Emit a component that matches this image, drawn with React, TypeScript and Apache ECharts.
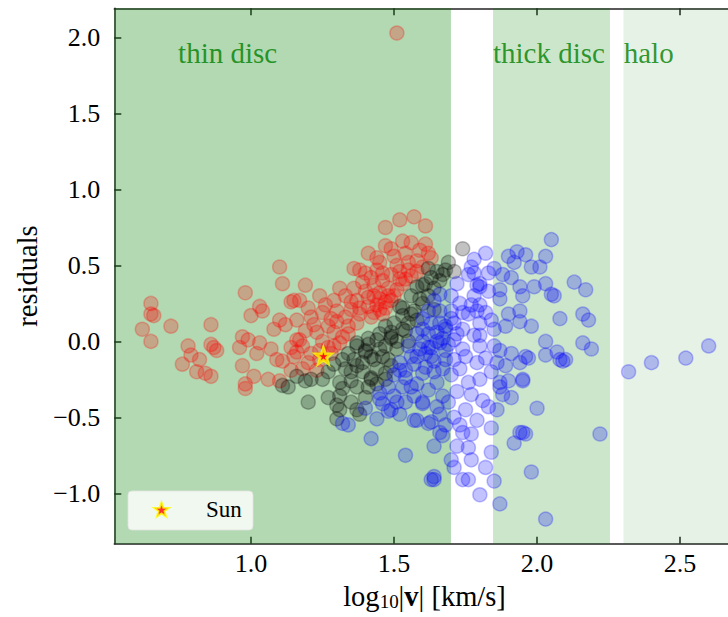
import React, { useEffect, useRef } from "react";
import * as echarts from "echarts";

// ---- axis ranges & ticks ----
const xMin = 0.522;
const xMax = 2.691;
const yMin = -1.332;
const yMax = 2.193;
const xTicks = [1.0, 1.5, 2.0, 2.5];
const yTicks = [-1.0, -0.5, 0.0, 0.5, 1.0, 1.5, 2.0];

// ---- kinematic regions (log10 |v| bounds) ----
const regionNames = ["thin disc", "thick disc", "halo"];
const regionFrom = [xMin, 1.846, 2.302];
const regionTo = [1.699, 2.255, xMax];
const regionAlpha = [0.3, 0.2, 0.1];
const regionLabelX = [0.745, 1.846, 2.303];
const regionLabelY = 1.9;

// ---- Sun ----
const sunPoint: [number, number] = [1.253, -0.095];

// ---- residuals, red group ----
const redStars: [number, number][] = [
  [0.65, 0.25], [0.65, 0.18], [0.66, 0.17], [0.62, 0.08], [0.65, 0.0], [0.72, 0.1],
  [0.86, 0.11], [0.78, -0.03], [0.79, -0.09], [0.76, -0.15], [0.82, -0.12], [0.81, -0.2],
  [0.86, -0.23], [0.84, -0.21], [0.86, -0.02], [0.88, -0.06], [0.87, -0.04],
  [0.98, 0.32], [1.1, 0.49], [1.11, 0.38], [1.19, 0.37], [1.0, 0.17], [1.03, 0.23],
  [1.04, 0.2], [0.97, 0.03], [0.96, -0.04], [0.99, 0.01], [1.02, -0.08], [0.97, -0.16],
  [0.98, -0.31], [0.98, -0.28], [1.01, -0.23], [1.06, -0.25], [1.03, -0.01], [1.07, -0.05],
  [1.08, 0.08], [1.1, 0.14], [1.12, 0.11], [1.09, -0.12], [1.11, -0.13], [1.15, -0.1],
  [1.14, -0.04], [1.16, 0.01], [1.18, -0.03], [1.14, 0.26], [1.17, 0.27], [1.1, -0.26],
  [1.47, 0.75], [1.52, 0.8], [1.57, 0.82], [1.61, 0.76], [1.61, 0.64], [1.63, 0.55],
  [1.41, 0.58], [1.44, 0.55], [1.36, 0.48], [1.47, 0.63], [1.49, 0.61], [1.56, 0.65],
  [1.54, 0.58], [1.5, 0.56], [1.58, 0.53], [1.6, 0.49], [1.15, 0.27], [1.24, 0.3],
  [1.31, 0.35], [1.29, 0.27], [1.39, 0.39], [1.43, 0.37], [1.46, 0.4], [1.49, 0.44],
  [1.52, 0.46], [1.54, 0.41], [1.37, 0.27], [1.41, 0.29], [1.45, 0.21], [1.43, 0.19],
  [1.25, 0.19], [1.21, 0.16], [1.16, 0.14], [1.23, 0.06], [1.17, 0.01], [1.29, 0.06],
  [1.34, 0.1], [1.37, 0.12], [1.31, -0.01], [1.27, -0.04], [1.21, -0.08], [1.16, -0.07],
  [1.41, 0.23], [1.35, 0.21], [1.45, 0.32], [1.51, 0.34], [1.56, 0.43], [1.49, 0.27],
  [1.47, 0.26], [1.44, 0.24], [1.48, 0.3], [1.42, 0.16], [1.46, 0.18], [1.38, 0.18],
  [1.33, 0.16], [1.3, 0.13], [1.27, 0.1], [1.32, 0.03], [1.28, -0.08], [1.24, -0.12],
  [1.2, -0.14], [1.26, 0.24], [1.2, 0.22], [1.33, 0.3], [1.53, 0.38], [1.58, 0.46],
  [1.62, 0.58], [1.55, 0.52], [1.51, 0.5], [1.38, 0.47], [1.44, 0.47], [1.51, 2.03],
  [1.45, 0.28], [1.47, 0.22], [1.5, 0.3], [1.48, 0.35], [1.43, 0.3], [1.4, 0.33],
  [1.42, 0.42], [1.46, 0.45], [1.52, 0.41], [1.38, 0.22], [1.35, 0.26], [1.36, 0.35],
  [1.3, 0.2], [1.28, 0.15], [1.34, 0.05], [1.25, 0.0], [1.22, 0.11], [1.19, 0.07],
  [1.29, -0.03], [1.24, -0.06], [1.18, -0.18], [1.23, -0.19], [1.14, -0.19], [1.55, 0.47],
  [1.59, 0.6], [1.53, 0.66], [1.45, 0.52], [1.4, 0.45],
];

// ---- residuals, black group ----
const blackStars: [number, number][] = [
  [1.47, 0.1], [1.65, 0.46], [1.67, 0.44], [1.6, 0.37], [1.56, 0.3], [1.52, 0.23],
  [1.53, 0.17], [1.57, 0.2], [1.62, 0.3], [1.49, 0.06], [1.44, 0.01], [1.41, -0.02],
  [1.37, -0.03], [1.47, -0.03], [1.51, 0.0], [1.54, 0.07], [1.36, -0.12], [1.32, -0.12],
  [1.42, -0.1], [1.48, -0.12], [1.37, -0.16], [1.35, -0.2], [1.39, -0.14], [1.19, -0.26],
  [1.21, -0.25], [1.25, -0.25], [1.27, -0.2], [1.31, -0.27], [1.2, -0.4], [1.27, -0.37],
  [1.31, -0.36], [1.31, -0.45], [1.3, -0.51], [1.37, -0.45], [1.38, -0.48], [1.41, -0.3],
  [1.42, -0.25], [1.47, -0.25], [1.44, -0.18], [1.49, -0.16], [1.46, -0.1], [1.51, -0.05],
  [1.55, 0.0], [1.49, 0.03], [1.16, -0.23], [1.11, -0.29], [1.74, 0.61], [1.71, 0.46],
  [1.68, 0.47], [1.66, 0.4], [1.63, 0.42], [1.6, 0.25], [1.58, 0.14], [1.55, 0.12],
  [1.64, 0.35], [1.45, 0.05], [1.4, -0.06], [1.34, -0.08], [1.29, -0.15], [1.3, -0.42],
  [1.37, -0.3], [1.32, -0.31], [1.42, -0.24], [1.47, -0.21], [1.64, 0.21], [1.58, 0.36],
  [1.53, 0.22], [1.41, 0.02], [1.4, -0.07], [1.49, 0.02], [1.37, -0.01], [1.13, -0.3],
  [1.5, 0.12], [1.53, 0.08], [1.56, 0.18], [1.59, 0.28], [1.61, 0.38], [1.45, -0.05],
  [1.43, -0.12], [1.39, -0.2], [1.35, -0.26], [1.33, -0.18], [1.4, -0.37], [1.35, -0.4],
  [1.44, -0.28], [1.62, 0.48], [1.69, 0.52],
];

// ---- residuals, blue group ----
const blueStars: [number, number][] = [
  [1.34, -0.55], [1.42, -0.64], [1.54, -0.75], [1.64, -0.89], [1.64, -0.69], [1.66, -0.6],
  [1.44, -0.51], [1.49, -0.45], [1.46, -0.41], [1.52, -0.48], [1.58, -0.52], [1.63, -0.53],
  [1.5, -0.36], [1.54, -0.4], [1.6, -0.41], [1.65, -0.43], [1.54, -0.19], [1.6, -0.21],
  [1.65, -0.27], [1.58, -0.28], [1.54, -0.24], [1.52, -0.14], [1.58, -0.1], [1.62, -0.04],
  [1.65, 0.0], [1.6, 0.0], [1.45, -0.34], [1.67, -0.36],
  [2.05, 0.67], [1.93, 0.59], [1.96, 0.57], [1.9, 0.56], [2.03, 0.56], [1.92, 0.52],
  [1.98, 0.49], [2.01, 0.49], [1.78, 0.54], [1.85, 0.48], [1.8, 0.36], [1.79, 0.37],
  [1.87, 0.34], [1.94, 0.36], [1.95, 0.3], [2.03, 0.38], [2.05, 0.31], [2.06, 0.3],
  [2.13, 0.39], [2.17, 0.34], [2.08, 0.15], [2.16, 0.18], [2.18, 0.14], [2.16, -0.01],
  [2.19, -0.05], [2.03, 0.0], [2.08, -0.12], [2.03, -0.09], [2.1, -0.12], [1.96, -0.1],
  [1.94, -0.14], [1.89, -0.16], [1.95, -0.25], [1.87, -0.27], [1.89, 0.1], [1.98, 0.1],
  [1.94, 0.13], [1.9, 0.18], [1.94, 0.2], [1.82, 0.19], [1.8, 0.24], [1.77, 0.24],
  [1.85, 0.08], [1.8, 0.04], [1.8, -0.03], [1.85, -0.03], [1.87, -0.06], [1.91, -0.08],
  [1.68, 0.08], [1.66, 0.12], [1.71, 0.12], [1.74, 0.19], [1.73, 0.25], [1.78, 0.45],
  [1.8, 0.38], [1.83, 0.33], [1.87, 0.28], [1.74, 0.08], [1.78, 0.04], [1.71, 0.01],
  [1.66, -0.01], [1.63, -0.04], [1.63, -0.1], [1.68, -0.06], [1.74, -0.05], [1.75, -0.1],
  [1.71, -0.12], [1.79, -0.14], [1.82, -0.11],
  [1.64, -0.91], [1.74, -0.91], [1.76, -0.91], [1.8, -1.01], [1.87, -1.07], [1.85, -0.92],
  [1.82, -0.83], [1.84, -0.73], [1.73, -0.55], [1.79, -0.52], [1.77, -0.61], [1.72, -0.69],
  [1.76, -0.7], [1.7, -0.78], [1.77, -0.78], [1.68, -0.55], [1.67, -0.62], [1.84, -0.57],
  [1.87, -0.3], [1.91, -0.37], [1.95, -0.26], [2.0, -0.44], [1.94, -0.6], [1.96, -0.61],
  [1.92, -0.67], [1.98, -0.86], [2.03, -1.17], [2.22, -0.61], [1.86, -0.45], [1.83, -0.43],
  [1.81, -0.39], [1.57, -0.52], [1.62, -0.54], [1.6, -0.4], [1.51, -0.4],
  [2.32, -0.2], [2.4, -0.14], [2.52, -0.11], [2.6, -0.03],
  [2.07, -0.07], [2.09, -0.13], [1.97, -0.11], [1.9, -0.26], [1.95, -0.6], [1.71, -0.83],
  [1.68, 0.1], [1.7, 0.15], [1.66, 0.2], [1.72, 0.05], [1.62, 0.05], [1.59, -0.05],
  [1.56, -0.1], [1.52, -0.19], [1.5, -0.22], [1.48, -0.3], [1.45, -0.38], [1.57, -0.15],
  [1.61, -0.17], [1.64, -0.13], [1.67, -0.18], [1.7, -0.22], [1.73, -0.18], [1.76, -0.27],
  [1.72, -0.33], [1.69, -0.4], [1.75, -0.45], [1.77, -0.35], [1.7, 0.3], [1.72, 0.38],
  [1.76, 0.44], [1.78, 0.3], [1.76, 0.18], [1.8, 0.12], [1.84, 0.14], [1.84, -0.2],
  [1.8, -0.25], [1.82, 0.58], [1.77, 0.49], [1.64, 0.27], [1.66, 0.31], [1.6, 0.15],
  [1.56, -0.3], [1.53, -0.3], [1.48, -0.46], [1.4, -0.44], [1.32, -0.54], [1.63, -0.91],
  [1.6, 0.08], [1.63, 0.12], [1.65, 0.06], [1.67, 0.02], [1.69, -0.02], [1.61, -0.08],
  [1.64, -0.2], [1.68, -0.12], [1.7, 0.2], [1.62, 0.2], [1.58, 0.05], [1.55, -0.03],
  [1.57, -0.36], [1.62, -0.32], [1.66, -0.48], [1.71, -0.5], [1.74, -0.6], [1.79, 0.2],
  [1.83, 0.45], [1.88, 0.44], [1.91, 0.42], [1.99, 0.36], [1.86, -0.14], [1.88, -0.35],
];

const SERIF = "Liberation Serif";

const fmt = (v: number) => (v < 0 ? "\u2212" : "") + Math.abs(v).toFixed(1);

const starPath = (() => {
  let d = "";
  for (let i = 0; i < 10; i++) {
    const r = i % 2 === 0 ? 1 : 0.4;
    const a = -Math.PI / 2 + (i * Math.PI) / 5;
    d += (i ? "L" : "M") + (r * Math.cos(a)).toFixed(3) + "," + (r * Math.sin(a)).toFixed(3) + " ";
  }
  return "path://" + d + "Z";
})();

const scatterStyle = (rgb: string) => ({
  color: `rgba(${rgb},0.3)`,
  borderColor: `rgba(${rgb},0.32)`,
  borderWidth: 1.5,
});

export default function App() {
  const ref = useRef<HTMLDivElement>(null);

  useEffect(() => {
    if (!ref.current) return;
    const chart = echarts.init(ref.current, undefined, { renderer: "svg" });

    const axisLineStyle = { color: "#222", width: 1.5 };

    const option: any = {
      animation: false,
      backgroundColor: "#fff",
      textStyle: { fontFamily: SERIF },
      grid: { left: 114.3, right: 7.3, top: 8.3, bottom: 73.3, containLabel: false },
      xAxis: [
        {
          type: "value",
          position: "bottom",
          min: xMin,
          max: xMax,
          splitLine: { show: false },
          axisLine: { show: true, onZero: false, lineStyle: axisLineStyle },
          axisTick: { show: true, inside: true, length: 7, lineStyle: axisLineStyle, customValues: xTicks },
          axisLabel: {
            show: true,
            customValues: xTicks,
            formatter: fmt,
            fontFamily: SERIF,
            fontSize: 26,
            color: "#000",
            margin: 7,
          },
          name: "{n|log}{s|10}{n||}{b|v}{n|| [km/s]}",
          nameLocation: "middle",
          nameGap: 36,
          nameTextStyle: {
            fontFamily: SERIF,
            fontSize: 28.5,
            color: "#000",
            rich: {
              n: { fontFamily: SERIF, fontSize: 28.5, color: "#000", lineHeight: 30 },
              s: { fontFamily: SERIF, fontSize: 19, color: "#000", lineHeight: 16, verticalAlign: "bottom" },
              b: { fontFamily: SERIF, fontSize: 28.5, color: "#000", fontWeight: "bold", lineHeight: 30 },
            },
          },
        },
        {
          type: "value",
          position: "top",
          min: xMin,
          max: xMax,
          splitLine: { show: false },
          axisLine: { show: true, onZero: false, lineStyle: axisLineStyle },
          axisTick: { show: true, inside: true, length: 7, lineStyle: axisLineStyle, customValues: xTicks },
          axisLabel: { show: false },
        },
      ],
      yAxis: [
        {
          type: "value",
          min: yMin,
          max: yMax,
          splitLine: { show: false },
          axisLine: { show: true, onZero: false, lineStyle: axisLineStyle },
          axisTick: { show: true, inside: true, length: 7, lineStyle: axisLineStyle, customValues: yTicks },
          axisLabel: {
            show: true,
            customValues: yTicks,
            formatter: fmt,
            fontFamily: SERIF,
            fontSize: 26,
            color: "#000",
            margin: 14,
          },
          name: "residuals",
          nameLocation: "middle",
          nameGap: 70,
          nameTextStyle: { fontFamily: SERIF, fontSize: 28.5, color: "#000" },
        },
      ],
      legend: {
        data: ["Sun"],
        left: 153,
        top: 498,
        padding: 0,
        itemWidth: 15,
        itemHeight: 15,
        z: 10,
        textStyle: { fontFamily: SERIF, fontSize: 23, color: "#000", padding: [0, 0, 0, 32] },
      },
      graphic: [
        {
          type: "rect",
          z: 9,
          shape: { x: 128, y: 491, width: 125, height: 39, r: 4 },
          style: { fill: "rgba(255,255,255,0.8)", stroke: "rgba(225,225,225,0.8)", lineWidth: 1 },
        },
      ],
      series: [
        {
          name: "regions",
          type: "scatter",
          data: [],
          z: 0,
          silent: true,
          markArea: {
            silent: true,
            data: regionNames.map((_, i) => [
              { xAxis: regionFrom[i], itemStyle: { color: `rgba(0,128,0,${regionAlpha[i]})` } },
              { xAxis: regionTo[i] },
            ]),
          },
        },
        {
          name: "red",
          type: "scatter",
          symbol: "circle",
          symbolSize: 14,
          itemStyle: scatterStyle("255,0,0"),
          data: redStars,
          z: 2,
        },
        {
          name: "black",
          type: "scatter",
          symbol: "circle",
          symbolSize: 14,
          itemStyle: scatterStyle("0,0,0"),
          data: blackStars,
          z: 2,
        },
        {
          name: "blue",
          type: "scatter",
          symbol: "circle",
          symbolSize: 14,
          itemStyle: scatterStyle("0,0,255"),
          data: blueStars,
          z: 2,
        },
        {
          name: "Sun",
          type: "scatter",
          symbol: starPath,
          symbolSize: 16,
          itemStyle: { color: "#ff0000", borderColor: "#ffff00", borderWidth: 2.8 },
          data: [sunPoint],
          z: 5,
        },
        {
          name: "regionLabels",
          type: "scatter",
          symbolSize: 0,
          silent: true,
          z: 6,
          data: regionNames.map((n, i) => ({ name: n, value: [regionLabelX[i], regionLabelY] })),
          label: {
            show: true,
            position: "right",
            distance: 0,
            formatter: (p: any) => p.name,
            fontFamily: SERIF,
            fontSize: 29,
            color: "#008000",
          },
        },
      ],
    };

    chart.setOption(option);
    return () => chart.dispose();
  }, []);

  return (
    <div
      style={{
        position: "fixed",
        left: 0,
        top: 0,
        width: 728,
        height: 617,
        overflow: "hidden",
        background: "#fff",
      }}
    >
      <div ref={ref} style={{ width: 742, height: 617 }} />
    </div>
  );
}
